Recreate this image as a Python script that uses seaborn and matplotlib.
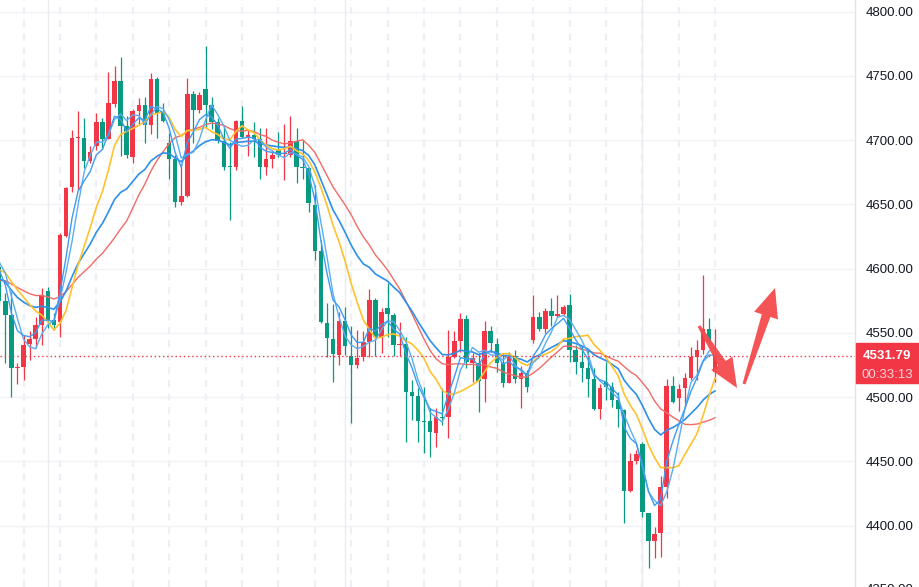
import numpy as np
import pandas as pd
import matplotlib
matplotlib.use("Agg")
import matplotlib.pyplot as plt
import seaborn as sns
from matplotlib.patches import Rectangle, Polygon

# ---------------- data ----------------
opens = [4601.0, 4574.9, 4564.0, 4522.5, 4523.7, 4541.4, 4545.3, 4556.2, 4582.9, 4560.1,
         4558.8, 4625.7, 4663.3, 4701.4, 4701.5, 4684.0, 4695.5, 4714.2, 4701.2, 4728.2,
         4746.0, 4711.1, 4687.2, 4723.0, 4727.4, 4711.8, 4747.6, 4720.9, 4698.1, 4685.4,
         4652.1, 4656.8, 4736.0, 4723.5, 4739.6, 4727.4, 4714.4, 4699.4, 4679.4, 4678.9,
         4715.2, 4702.7, 4704.0, 4700.9, 4679.4, 4685.4, 4692.4, 4689.0, 4688.5, 4699.4,
         4679.4, 4678.1, 4649.6, 4613.8, 4557.5, 4545.3, 4532.9, 4559.4, 4532.1, 4525.1,
         4531.0, 4543.1, 4575.6, 4547.0, 4569.2, 4564.0, 4540.6, 4541.4, 4503.8, 4501.2,
         4481.7, 4481.5, 4472.4, 4484.8, 4484.3, 4531.5, 4543.8, 4560.6, 4526.9, 4526.7,
         4513.9, 4551.5, 4541.2, 4526.4, 4511.3, 4532.1, 4514.4, 4518.6, 4544.5, 4562.2,
         4553.1, 4567.1, 4563.5, 4564.8, 4571.8, 4536.7, 4527.6, 4523.0, 4514.2, 4491.2,
         4512.1, 4508.2, 4497.8, 4490.0, 4427.2, 4450.6, 4463.6, 4409.7, 4388.3, 4394.1,
         4430.1, 4508.7, 4499.6, 4506.9, 4515.2, 4531.0, 4536.7, 4552.8, 4520.0]
highs = [4606.0, 4581.1, 4582.1, 4527.0, 4548.4, 4551.5, 4562.7, 4584.7, 4586.0, 4565.3,
         4628.0, 4663.8, 4707.9, 4723.0, 4717.0, 4695.5, 4721.0, 4717.0, 4753.3, 4757.7,
         4765.0, 4718.8, 4724.0, 4732.6, 4733.9, 4752.5, 4749.4, 4729.2, 4705.8, 4688.5,
         4680.7, 4748.2, 4738.3, 4737.7, 4773.3, 4733.9, 4717.0, 4711.8, 4698.8, 4715.7,
         4726.6, 4707.9, 4714.4, 4709.3, 4709.3, 4692.4, 4706.6, 4712.6, 4718.8, 4709.3,
         4700.2, 4679.4, 4665.2, 4622.4, 4573.1, 4572.6, 4566.6, 4569.9, 4555.1, 4552.3,
         4551.5, 4584.2, 4577.2, 4569.2, 4588.6, 4565.5, 4558.8, 4547.0, 4513.4, 4507.0,
         4507.7, 4491.4, 4491.4, 4507.0, 4552.3, 4551.7, 4565.8, 4564.0, 4534.2, 4534.2,
         4559.5, 4555.1, 4545.9, 4533.7, 4535.4, 4536.7, 4524.3, 4521.2, 4579.5, 4566.6,
         4569.2, 4577.0, 4579.5, 4571.8, 4580.3, 4540.6, 4539.9, 4536.7, 4522.5, 4510.6,
         4527.6, 4512.1, 4504.3, 4490.6, 4456.8, 4458.9, 4465.4, 4410.1, 4399.2, 4438.7,
         4514.2, 4516.5, 4510.6, 4519.0, 4538.8, 4544.5, 4595.1, 4561.4, 4553.0]
lows = [4572.0, 4526.6, 4500.2, 4509.9, 4513.4, 4528.9, 4538.6, 4540.6, 4553.6, 4552.1,
        4546.6, 4624.5, 4659.9, 4661.2, 4678.1, 4682.0, 4692.4, 4692.9, 4700.8, 4726.1,
        4687.7, 4686.4, 4682.0, 4712.6, 4697.6, 4704.8, 4701.5, 4714.4, 4669.8, 4648.3,
        4649.6, 4656.0, 4697.6, 4720.9, 4710.5, 4708.5, 4698.1, 4676.8, 4637.9, 4676.8,
        4701.5, 4687.7, 4686.7, 4669.6, 4672.9, 4678.1, 4686.7, 4669.0, 4686.7, 4666.9,
        4669.6, 4644.4, 4607.1, 4558.0, 4531.6, 4512.1, 4524.9, 4532.9, 4480.2, 4522.5,
        4528.4, 4531.1, 4532.1, 4534.7, 4547.0, 4532.1, 4532.1, 4465.4, 4482.3, 4465.4,
        4456.3, 4453.7, 4461.5, 4478.4, 4468.0, 4530.3, 4535.4, 4522.5, 4512.1, 4488.7,
        4496.5, 4535.4, 4519.9, 4507.7, 4510.8, 4510.8, 4491.4, 4504.3, 4541.9, 4551.7,
        4549.7, 4555.1, 4562.7, 4564.0, 4527.6, 4518.2, 4512.1, 4500.4, 4490.0, 4482.8,
        4497.8, 4492.6, 4476.6, 4401.9, 4426.5, 4448.0, 4407.0, 4366.9, 4374.6, 4375.4,
        4421.3, 4495.3, 4489.5, 4493.2, 4513.4, 4513.4, 4534.0, 4542.4, 4512.0]
closes = [4575.1, 4564.0, 4522.5, 4523.7, 4540.6, 4545.3, 4556.2, 4579.5, 4560.1, 4556.2,
          4626.2, 4663.0, 4701.4, 4702.2, 4684.0, 4690.8, 4714.2, 4701.2, 4729.2, 4746.1,
          4711.3, 4688.5, 4723.0, 4727.4, 4711.8, 4747.6, 4720.9, 4715.2, 4685.4, 4652.1,
          4656.6, 4736.0, 4723.5, 4735.2, 4727.4, 4714.4, 4699.6, 4679.4, 4678.8, 4715.2,
          4702.7, 4704.0, 4700.9, 4679.4, 4685.4, 4688.5, 4688.5, 4689.8, 4699.4, 4679.4,
          4678.1, 4651.4, 4614.1, 4558.8, 4545.8, 4533.6, 4559.3, 4539.9, 4525.1, 4530.8,
          4543.1, 4575.6, 4547.0, 4566.6, 4564.5, 4540.6, 4541.4, 4504.3, 4501.2, 4481.7,
          4480.9, 4472.7, 4484.8, 4483.6, 4531.5, 4543.8, 4560.6, 4527.7, 4530.3, 4512.7,
          4551.5, 4542.4, 4526.4, 4511.3, 4532.1, 4513.9, 4518.6, 4507.7, 4562.2, 4553.1,
          4567.1, 4563.5, 4564.8, 4570.0, 4536.7, 4527.6, 4523.0, 4514.2, 4490.8, 4507.2,
          4508.2, 4497.8, 4490.6, 4427.2, 4450.3, 4455.6, 4410.4, 4388.3, 4393.5, 4430.1,
          4508.7, 4496.5, 4506.2, 4515.2, 4531.5, 4536.7, 4552.8, 4543.1, 4531.79]
# closes before the visible window (off-screen), estimated from the MA levels at the left edge
prior_closes = [4570, 4575, 4580, 4588, 4592, 4585, 4578, 4582, 4590, 4590,
                4585, 4592, 4588, 4596, 4604, 4606, 4612, 4611, 4621]
price_ticks = [4400, 4450, 4500, 4550, 4600, 4650, 4700, 4750, 4800]
last_price = 4531.79
countdown = "00:33:13"

# ---------------- style ----------------
sns.set_style("white")
plt.rcParams['font.family'] = ['Liberation Sans', 'DejaVu Sans']

UP = '#F23645'     # rising candles (red)
DOWN = '#089981'   # falling candles (green)

W, H = 919, 587
fig = plt.figure(figsize=(W / 100, H / 100), dpi=100)
AX_R = 855
ax = fig.add_axes([0, 0, AX_R / W, 1])

n = len(closes)
idx = np.arange(n)
x0 = 0.127
x1 = x0 + AX_R / 6.068
y_lo, y_hi = 4352.3, 4809.1
ax.set_xlim(x0, x1)
ax.set_ylim(y_lo, y_hi)

# grid
for t in price_ticks + [4350]:
    ax.axhline(t, color='#F0F2F7', lw=1.0, zorder=0)
for g in range(4, n, 6):
    ax.axvline(g, color='#EDEFF4', lw=1.6, ls=(0, (3, 3)), zorder=0)
for g in [8, 57, 106]:
    ax.axvline(g, color='#E9EBF1', lw=1.0, zorder=0)

# candles
o = np.array(opens); c = np.array(closes); h = np.array(highs); l = np.array(lows)
cols = [UP if cc >= oo else DOWN for oo, cc in zip(o, c)]
ax.vlines(idx, l, h, colors=cols, lw=0.9, zorder=2)
body_b = np.minimum(o, c)
body_h = np.maximum(np.abs(c - o), 0.9)
ax.bar(idx, body_h, bottom=body_b, width=0.74, color=cols, linewidth=0, zorder=3)

# moving averages
full = pd.Series(prior_closes + closes, index=np.arange(-len(prior_closes), n), dtype=float)
lines = [
    (full.rolling(20).mean(), '#F26B65', 1.0),
    (full.ewm(span=20, adjust=False).mean(), '#2E8FEA', 1.2),
    (full.rolling(10).mean(), '#FFC22E', 1.2),
    (full.rolling(5).mean(), '#5AADF2', 1.0),
    (full.ewm(span=5, adjust=False).mean(), '#3F9CF0', 1.0),
]
for ser, colr, lw in lines:
    s = ser.dropna()
    sns.lineplot(x=s.index.values, y=s.values, ax=ax, color=colr, linewidth=lw,
                 estimator=None, zorder=4)

# last price dotted line
ax.axhline(last_price, color=UP, lw=1.0, ls=(0, (1, 2)), zorder=5)

# axes styling
for sp in ['top', 'left', 'bottom']:
    ax.spines[sp].set_visible(False)
ax.spines['right'].set_color('#E0E3EB')
ax.spines['right'].set_linewidth(1.0)
ax.set_xticks([])
ax.yaxis.tick_right()
ax.set_yticks(price_ticks)
ax.set_yticklabels([f"{t:.2f}" for t in price_ticks])
ax.tick_params(axis='y', length=0, pad=8, labelsize=9.5, labelcolor='#131722')
ax.set_xlabel(''); ax.set_ylabel('')
ax.text(1.0 + 11 / AX_R, 4350, "4350.00", transform=ax.get_yaxis_transform(), ha='left',
        va='center', fontsize=9.5, color='#131722', clip_on=False)

# price label box
fig.patches.append(Rectangle(((AX_R + 1) / W, (H - 383) / H), (W - AX_R - 1) / W, 40 / H,
                             transform=fig.transFigure, color=UP, zorder=10))
fig.text((AX_R + 1 + 31) / W, (H - 356) / H, f"{last_price:.2f}", ha='center', va='center',
         color='white', fontsize=9.5, fontweight='bold', zorder=11)
fig.text((AX_R + 1 + 31) / W, (H - 375) / H, countdown, ha='center', va='center',
         color='#FFD3D8', fontsize=9.5, zorder=11)

# hand-drawn style arrows (pixel geometry)
def px_to_data(xp, yp):
    return ((xp + 0.77) / 6.068, 4800 - (yp - 11.7) / 1.285)

def arrow(tail_px, tip_px, w0=1.5, w1=4.5, hw=12.5, hl=29):
    to_disp = ax.transData.transform
    inv = ax.transData.inverted().transform
    p0 = to_disp(px_to_data(*tail_px)); p1 = to_disp(px_to_data(*tip_px))
    d = p1 - p0; L = np.hypot(*d); u = d / L; nn = np.array([-u[1], u[0]])
    pb = p1 - u * hl
    pts = [p0 + nn * w0, pb + nn * w1, pb + nn * hw, p1, pb - nn * hw, pb - nn * w1, p0 - nn * w0]
    pts = inv(np.array(pts))
    ax.add_patch(Polygon(pts, closed=True, color='#F54B4E', alpha=0.95, lw=0,
                         zorder=8, clip_on=False))

arrow((699, 326), (737, 388))
arrow((744, 384), (775, 288))

fig.savefig("out.png", dpi=100)
